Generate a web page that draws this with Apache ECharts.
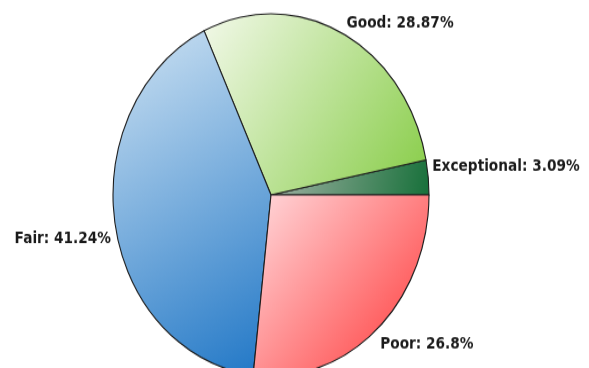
<!DOCTYPE html>
<html>
<head>
<meta charset="utf-8">
<script src="https://cdn.jsdelivr.net/npm/echarts@6/dist/echarts.min.js"></script>
<style>
  html, body { margin: 0; padding: 0; background: #fff; overflow: hidden; }
  #wrap { width: 589px; height: 368px; overflow: hidden; }
  /* the pie is drawn round and stretched vertically into an ellipse */
  #chart { width: 589px; height: 321px; transform-origin: 0 0; transform: scaleY(1.1464); }
</style>
</head>
<body>
<div id="wrap"><div id="chart"></div></div>
<script>
const categories = ['Exceptional', 'Good', 'Fair', 'Poor'];
const shares = [3.09, 28.87, 41.24, 26.8];

// light (top-left) to saturated (bottom-right) for each slice
const gradientFrom = ['#a3b3a6', '#f3f9ea', '#cfe3f3', '#ffdadd'];
const gradientTo = ['#17703a', '#86cc45', '#1f76c6', '#ff3535'];

const centerX = 271, centerY = 170;

function gradient(i) {
  return new echarts.graphic.LinearGradient(0, 0, 1, 1, [
    { offset: 0, color: gradientFrom[i] },
    { offset: 1, color: gradientTo[i] }
  ]);
}

const data = categories.map((name, i) => ({
  name: name,
  value: shares[i],
  itemStyle: { color: gradient(i) }
}));

const chart = echarts.init(document.getElementById('chart'), null, { renderer: 'canvas' });
chart.setOption({
  animation: false,
  series: [{
    type: 'pie',
    center: [centerX, centerY],
    radius: 158,
    startAngle: 0,
    clockwise: false,
    avoidLabelOverlap: false,
    data: data,
    itemStyle: { borderColor: '#1c1c1c', borderWidth: 1.1 },
    label: {
      show: true,
      position: 'outside',
      formatter: '{b}: {c}%',
      fontFamily: 'DejaVu Sans',
      fontWeight: 'bold',
      fontSize: 13.7,
      color: '#1a1a1a',
      distanceToLabelLine: 4
    },
    labelLine: { show: false, length: 0, length2: 0 },
    // labels sit just above the rim in the upper half, just below it in the lower half
    labelLayout: function (params) {
      const r = params.labelRect;
      const upper = r.y + r.height / 2 < centerY;
      return { dy: upper ? -9 : 13 };
    },
    emphasis: { disabled: true }
  }]
});
</script>
</body>
</html>
